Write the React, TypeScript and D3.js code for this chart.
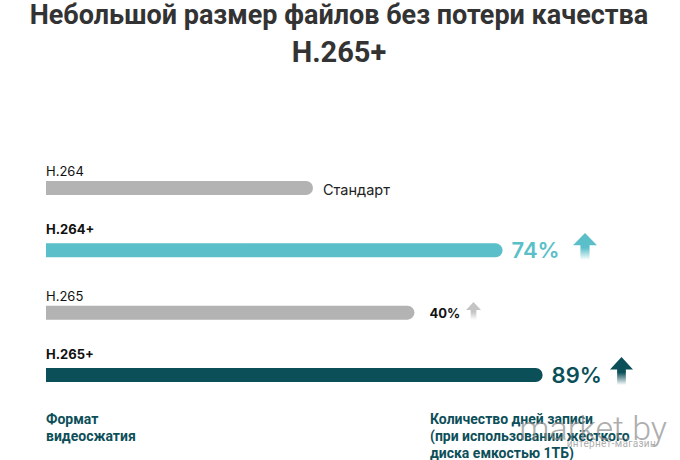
import React from 'react';
import * as d3 from 'd3';

const codecs = ['H.264', 'H.264+', 'H.265', 'H.265+'];
const relativeDays = [100, 171, 138, 186];
const gainLabels = ['Стандарт', '74%', '40%', '89%'];
const barColors = ['#b3b3b3', '#5bbfc9', '#b3b3b3', '#0b4f59'];
const boldLabel = [false, true, false, true];

const W = 680;
const H = 460;

const x = d3.scaleLinear().domain([0, 200]).range([46, 580]);
const y = d3.scalePoint<string>().domain(codecs).range([188, 375]);
const barH = 14;

function barPath(x0: number, x1: number, yc: number, h: number) {
  const r = h / 2;
  const top = yc - r;
  const p = d3.path();
  p.moveTo(x0, top);
  p.lineTo(x1 - r, top);
  p.arc(x1 - r, yc, r, -Math.PI / 2, Math.PI / 2);
  p.lineTo(x0, top + h);
  p.closePath();
  return p.toString();
}

function Arrow({ cx, top, w, h, color, id }: { cx: number; top: number; w: number; h: number; color: string; id: string }) {
  const head = h * 0.45;
  const stem = w * 0.38;
  const d = `M${cx},${top} L${cx + w / 2},${top + head} L${cx + stem / 2},${top + head} L${cx + stem / 2},${top + h} L${cx - stem / 2},${top + h} L${cx - stem / 2},${top + head} L${cx - w / 2},${top + head} Z`;
  return (
    <g>
      <defs>
        <linearGradient id={id} x1="0" y1="0" x2="0" y2="1">
          <stop offset="0%" stopColor={color} stopOpacity={1} />
          <stop offset="55%" stopColor={color} stopOpacity={1} />
          <stop offset="100%" stopColor={color} stopOpacity={0} />
        </linearGradient>
      </defs>
      <path d={d} fill={`url(#${id})`} />
    </g>
  );
}

export default function App() {
  const footerFont = 'Roboto, sans-serif';
  return (
    <svg width={W} height={H} style={{ position: 'absolute', left: 0, top: 0, background: '#fff' }}>
      <text x={339} y={24} textAnchor="middle" fontFamily="Roboto, sans-serif" fontWeight={700} fontSize={27} fill="#333">
        Небольшой размер файлов без потери качества
      </text>
      <text x={339} y={62} textAnchor="middle" fontFamily="Roboto, sans-serif" fontWeight={700} fontSize={29} fill="#333">
        H.265+
      </text>

      {codecs.map((c, i) => {
        const yc = y(c)!;
        return (
          <g key={c}>
            <text x={46} y={yc - (boldLabel[i] ? 16 : 12)} fontFamily="Inter, sans-serif" fontSize={13} fontWeight={boldLabel[i] ? 700 : 400} fill="#111">
              {c}
            </text>
            <path d={barPath(x(0), x(relativeDays[i]), yc, barH)} fill={barColors[i]} />
          </g>
        );
      })}

      {/* gain labels */}
      <text x={x(relativeDays[0]) + 10} y={y(codecs[0])! + 7} fontFamily="Inter, sans-serif" fontSize={14.5} fill="#222">
        {gainLabels[0]}
      </text>
      <text x={x(relativeDays[1]) + 9} y={y(codecs[1])! + 8} fontFamily="Inter, sans-serif" fontSize={22} fontWeight={600} fill={barColors[1]}>
        {gainLabels[1]}
      </text>
      <Arrow cx={585} top={233} w={24} h={27} color={barColors[1]} id="a1" />
      <text x={x(relativeDays[2]) + 15} y={y(codecs[2])! + 5} fontFamily="Inter, sans-serif" fontSize={13} fontWeight={700} fill="#111">
        {gainLabels[2]}
      </text>
      <Arrow cx={473.5} top={302} w={15} h={18} color="#c4c4c4" id="a2" />
      <text x={x(relativeDays[3]) + 9} y={y(codecs[3])! + 8} fontFamily="Inter, sans-serif" fontSize={22} fontWeight={600} fill={barColors[3]}>
        {gainLabels[3]}
      </text>
      <Arrow cx={621.5} top={357} w={23} h={28} color={barColors[3]} id="a3" />

      {/* footer */}
      <g fontFamily={footerFont} fontWeight={700} fontSize={14} fill="#0d4f59">
        <text x={46} y={424}>Формат</text>
        <text x={46} y={441}>видеосжатия</text>
        <text x={430} y={424}>Количество дней записи</text>
        <text x={430} y={441}>(при использовании жёсткого</text>
        <text x={430} y={458}>диска емкостью 1ТБ)</text>
      </g>

      {/* watermark */}
      <g fill="#8c8c8c" opacity={0.7} fontFamily={footerFont}>
        <text x={667} y={440} textAnchor="end" fontSize={34} fontWeight={300}>market.by</text>
        <text x={656} y={447} textAnchor="end" fontSize={10} letterSpacing={0.3}>интернет-магазин</text>
      </g>
    </svg>
  );
}
